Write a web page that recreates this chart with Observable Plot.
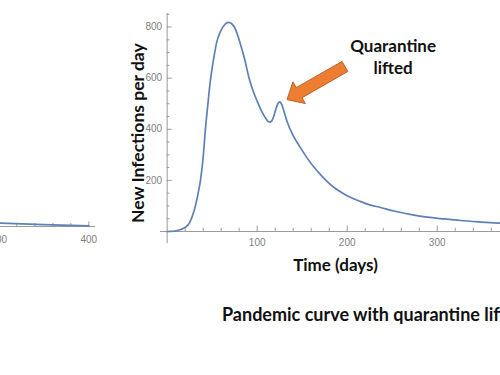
<!DOCTYPE html>
<html><head><meta charset="utf-8">
<script src="https://cdn.jsdelivr.net/npm/d3@7"></script>
<script src="https://cdn.jsdelivr.net/npm/@observablehq/plot@0.6"></script>
<style>
html,body{margin:0;padding:0;background:#fff;}
#wrap{position:relative;width:500px;height:375px;overflow:hidden;background:#fff;}
#main{position:absolute;top:0;left:0;width:500px;}
#left{position:absolute;top:0;left:-40px;width:135px;}
#title{position:absolute;left:222px;top:303px;font:700 18px Lato,sans-serif;white-space:nowrap;color:#111;}
</style></head><body>
<div id="wrap"><div id="main"></div><div id="left"></div><div id="title">Pandemic curve with quarantine lifted</div></div>
<script>
// Main curve: new infections per day vs time (days)
const days = [0,5,10,15,20,25,30,35,37,40,42.6,45,48,52,55,59,64,68,72,76,81,86,91,96,100,105,110,112,114,116,118,120,122,124,125,126,128,130,133,140,148,155,163,175,185,195,204,215,225,237,252,270,289,308,326,345,363,380,400];
const infections = [0,0.5,3,8,16,35,82,160,200,290,405,490,590,683,740,781,810,818,812,790,738,675,600,545,510,470,440,431,428,432,447,470,492,505,507,505,490,468,432,375,328,290,252,205,173,150,133,117,104,94,80,67,56,49,43,38,34,31,28];

// Partial neighbouring chart (left edge)
const leftDays = [257, 300, 350, 400];
const leftValues = [20, 14, 8, 3];

// Ticks and labels
const xMajor = [100, 200, 300];
const xMinor = d3.range(20, 380, 20).filter(d => d % 100 !== 0);
const xLabels = ["100", "200", "300"];
const yMajor = [200, 400, 600, 800];
const yMinor = d3.range(50, 900, 50).filter(d => d % 200 !== 0);
const yLabels = ["200", "400", "600", "800"];
const leftMajor = [300, 400];
const leftMinor = [280, 320, 340, 360, 380];
const leftLabels = ["300", "400"];

// Annotation and axis titles
const noteText = "Quarantine\nlifted";
const noteAt = [251, 686];
const arrowTail = [198, 644];
const arrowTip = [133.7, 514];
const yTitle = "New Infections per day";
const yTitleAt = [-31.5, 385];
const xTitle = "Time (days)";
const xTitleAt = [187, -134];

const curveColor = "#5e81b5";
const axisColor = "#9a9a9a";
const labelColor = "#7f7f7f";
const tickFont = "Liberation Sans, Arial, sans-serif";
const boldFont = "Lato, sans-serif";

function blockArrow(index, scales) {
  const tx = scales.x(arrowTip[0]), ty = scales.y(arrowTip[1]);
  const sx = scales.x(arrowTail[0]), sy = scales.y(arrowTail[1]);
  const L = Math.hypot(tx - sx, ty - sy);
  const ux = (tx - sx) / L, uy = (ty - sy) / L;
  const nx = -uy, ny = ux;
  const headLen = 14, headHalf = 12.5, shaftHalf = 5.8;
  const bx = tx - ux * headLen, by = ty - uy * headLen;
  const pts = [
    [sx + nx * shaftHalf, sy + ny * shaftHalf],
    [bx + nx * shaftHalf, by + ny * shaftHalf],
    [bx + nx * headHalf, by + ny * headHalf],
    [tx, ty],
    [bx - nx * headHalf, by - ny * headHalf],
    [bx - nx * shaftHalf, by - ny * shaftHalf],
    [sx - nx * shaftHalf, sy - ny * shaftHalf]
  ];
  const p = document.createElementNS("http://www.w3.org/2000/svg", "path");
  p.setAttribute("d", "M" + pts.map(q => q.join(",")).join("L") + "Z");
  p.setAttribute("fill", "#ed7d31");
  p.setAttribute("stroke", "#b8622a");
  p.setAttribute("stroke-width", "1");
  return p;
}

const data = days.map((d, i) => ({day: d, value: infections[i]}));

const main = Plot.plot({
  width: 500,
  height: 280,
  marginLeft: 160,
  marginRight: 0,
  marginTop: 13,
  marginBottom: 37,
  style: {background: "transparent", overflow: "visible"},
  x: {domain: [-7.4, 370.3], axis: null},
  y: {domain: [-47, 853], axis: null},
  marks: [
    Plot.ruleY([0], {stroke: axisColor, strokeWidth: 1}),
    Plot.ruleX([0], {stroke: axisColor, strokeWidth: 1}),
    Plot.ruleX(xMajor, {x: d => d, y1: 0, y2: 0, insetTop: -5.5, stroke: axisColor}),
    Plot.ruleX(xMinor, {x: d => d, y1: 0, y2: 0, insetTop: -3.2, stroke: axisColor}),
    Plot.ruleY(yMajor, {y: d => d, x1: 0, x2: 0, insetRight: -5, stroke: axisColor}),
    Plot.ruleY(yMinor, {y: d => d, x1: 0, x2: 0, insetRight: -2.8, stroke: axisColor}),
    Plot.text(xMajor, {x: d => d, y: 0, text: (d, i) => xLabels[i], dy: 11, fill: labelColor, fontSize: 10, fontFamily: tickFont}),
    Plot.text(yMajor, {x: 0, y: d => d, text: (d, i) => yLabels[i], dx: -5, textAnchor: "end", fill: labelColor, fontSize: 10, fontFamily: tickFont}),
    Plot.line(data, {x: "day", y: "value", stroke: curveColor, strokeWidth: 1.7, curve: "monotone-x"}),
    blockArrow,
    Plot.text([noteText], {x: noteAt[0], y: noteAt[1], text: d => d, fontSize: 17, fontWeight: 700, fontFamily: boldFont, fill: "#111", lineHeight: 1.3}),
    Plot.text([yTitle], {x: yTitleAt[0], y: yTitleAt[1], text: d => d, rotate: -90, fontSize: 17.5, fontWeight: 700, fontFamily: boldFont, fill: "#111"}),
    Plot.text([xTitle], {x: xTitleAt[0], y: xTitleAt[1], text: d => d, fontSize: 17, fontWeight: 700, fontFamily: boldFont, fill: "#111"})
  ]
});
document.getElementById("main").appendChild(main);

const leftData = leftDays.map((d, i) => ({day: d, value: leftValues[i]}));
const left = Plot.plot({
  width: 135,
  height: 260,
  marginLeft: 0,
  marginRight: 0,
  marginTop: 13,
  marginBottom: 34,
  style: {background: "transparent", overflow: "visible"},
  x: {domain: [257.4, 407.4], axis: null},
  y: {domain: [0, 900], axis: null},
  marks: [
    Plot.ruleY([0], {stroke: axisColor}),
    Plot.ruleX(leftMajor, {x: d => d, y1: 0, y2: 0, insetTop: -4.5, stroke: axisColor}),
    Plot.ruleX(leftMinor, {x: d => d, y1: 0, y2: 0, insetTop: -3, stroke: axisColor}),
    Plot.text(leftMajor, {x: d => d, y: 0, text: (d, i) => leftLabels[i], dy: 13, fill: labelColor, fontSize: 10, fontFamily: tickFont}),
    Plot.line(leftData, {x: "day", y: "value", stroke: curveColor, strokeWidth: 1.7})
  ]
});
document.getElementById("left").appendChild(left);
</script>
</body></html>
